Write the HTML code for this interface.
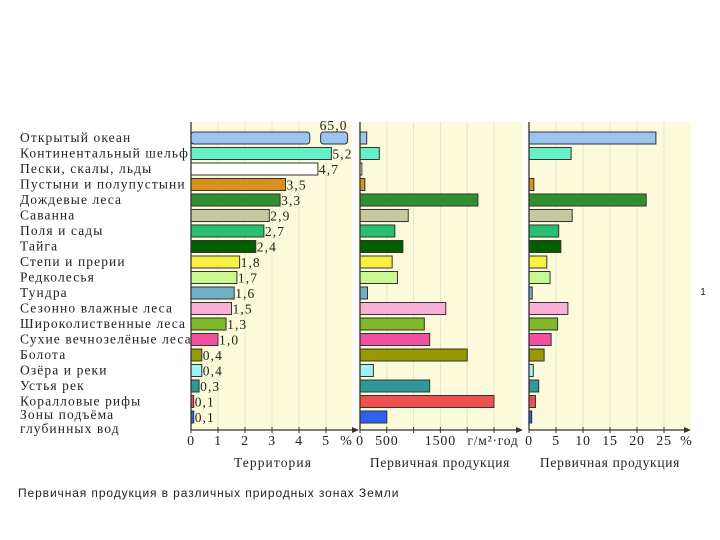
<!DOCTYPE html>
<html><head><meta charset="utf-8"><style>
body{margin:0;width:720px;height:540px;background:#fff;overflow:hidden}
svg{position:absolute;left:0;top:0}
text{font-family:"Liberation Serif","DejaVu Serif",serif;fill:#222}
</style></head><body>
<svg id="c" width="720" height="540"></svg>
<script>
const categories=["Открытый океан","Континентальный шельф","Пески, скалы, льды","Пустыни и полупустыни","Дождевые леса","Саванна","Поля и сады","Тайга","Степи и прерии","Редколесья","Тундра","Сезонно влажные леса","Широколиственные леса","Сухие вечнозелёные леса","Болота","Озёра и реки","Устья рек","Коралловые рифы","Зоны подъёма глубинных вод"];
const territory=[65.0,5.2,4.7,3.5,3.3,2.9,2.7,2.4,1.8,1.7,1.6,1.5,1.3,1.0,0.4,0.4,0.3,0.1,0.1];
const territoryLabels=["65,0","5,2","4,7","3,5","3,3","2,9","2,7","2,4","1,8","1,7","1,6","1,5","1,3","1,0","0,4","0,4","0,3","0,1","0,1"];
const productivity=[125,360,35,90,2200,900,650,800,600,700,140,1600,1200,1300,2000,250,1300,2500,500];
const productionShare=[23.5,7.8,0,0.9,21.7,8,5.5,5.9,3.3,3.9,0.6,7.2,5.3,4.1,2.8,0.8,1.8,1.2,0.5];
const colors=["#9cc4f0","#66f0c8","#ffffff","#d89020","#2e9030","#c8c8a0","#28c070","#006000","#f8f040","#c8f890","#70b0c8","#f8b0d8","#80b828","#f050a0","#989800","#a0f0f8","#309898","#f05050","#3060f0"];
const terrTicks=[0,1,2,3,4,5];
const prodTicks=[0,500,1000,1500,2000,2500];
const prodTickLabels=["0","500","","1500","",""];
const shareTicks=[0,5,10,15,20,25];

const NS="http://www.w3.org/2000/svg";
const svg=document.getElementById('c');
function el(t,a,p){const e=document.createElementNS(NS,t);for(const k in a)e.setAttribute(k,a[k]);(p||svg).appendChild(e);return e;}
const rowY=i=>138+i*15.5;
const BH=12, AXY=430, TOP=122;
const tx=v=>191+v*27;
const px=v=>360+v*0.0536;
const sx=v=>529+v*5.4;
const LS='1.1px';

[[191,352,"territory-panel"],[358,522,"productivity-panel"],[527,691,"share-panel"]].forEach(p=>{
 const r=el('rect',{x:p[0],y:TOP,width:p[1]-p[0],height:AXY-TOP,fill:'#fbfbdc'});
 
 
});
function grid(ticks,f,labels,name){
 ticks.forEach((t,i)=>{
  if(t>0){const g=el('line',{x1:f(t),x2:f(t),y1:TOP,y2:AXY,stroke:'#e4e4c8','stroke-width':1});
  }
  const tk=el('line',{x1:f(t),x2:f(t),y1:AXY-3,y2:AXY+3,stroke:'#333'});
  
  const lab=labels?labels[i]:String(t);
  if(lab){const tt=el('text',{x:f(t),y:445,'font-size':14,'text-anchor':'middle'});tt.textContent=lab;tt.style.letterSpacing='0.8px';
  }
 });
}
grid(terrTicks,tx,null,'territory');
grid(prodTicks,px,prodTickLabels,'productivity');
grid(shareTicks,sx,null,'share');

function lab(x,y,s,name,anchor){const t=el('text',{x:x,y:y,'font-size':13.5,'text-anchor':anchor||'start'});t.textContent=s;t.style.letterSpacing=LS;
 return t;}

categories.forEach((c,i)=>{
 const y=rowY(i);
 if(i<categories.length-1){
  lab(20,y+4,c,'category-label');
 }else{
  lab(20,y+2,"Зоны подъёма",'category-label');
  lab(20,y+16,"глубинных вод",'category-label');
 }
 let v=territory[i];
 if(v>5.5){
  const b1=el('rect',{x:tx(0),y:y-BH/2,width:tx(4.4)-tx(0),height:BH,fill:colors[i],stroke:'#333',rx:3});
  
  const b2=el('rect',{x:tx(4.8),y:y-BH/2,width:tx(5.8)-tx(4.8),height:BH,fill:colors[i],stroke:'#333',rx:3});
  
  lab(tx(5.8),y-8,territoryLabels[i],'territory-value','end');
 }else{
  const b=el('rect',{x:tx(0),y:y-BH/2,width:tx(v)-tx(0),height:BH,fill:colors[i],stroke:'#333'});
  
  lab(tx(v)+1,y+5,territoryLabels[i],'territory-value');
 }
 const pb=el('rect',{x:px(0),y:y-BH/2,width:px(productivity[i])-px(0),height:BH,fill:colors[i],stroke:'#333'});
 
 if(productionShare[i]>0){
  const sb=el('rect',{x:sx(0),y:y-BH/2,width:sx(productionShare[i])-sx(0),height:BH,fill:colors[i],stroke:'#333'});
  
 }
});

[[191,TOP,352],[360,TOP,516],[529,TOP,684]].forEach((a,k)=>{
 const v=el('line',{x1:a[0],x2:a[0],y1:a[1],y2:AXY,stroke:'#333','stroke-width':1.3});
 
 const h=el('line',{x1:a[0],x2:a[2],y1:AXY,y2:AXY,stroke:'#333','stroke-width':1.3});
 
 const ar=el('path',{d:`M${a[2]} ${AXY-3} L${a[2]+7} ${AXY} L${a[2]} ${AXY+3}Z`,fill:'#333'});
 
});
function txt(x,y,s,size,anchor,name,fam,ls){const t=el('text',{x:x,y:y,'font-size':size,'text-anchor':anchor});t.textContent=s;if(fam)t.style.fontFamily=fam;if(ls)t.style.letterSpacing=ls;
 return t;}
txt(346,445,"%",14,'middle','territory-unit');
txt(493,445,"г/м²·год",13.5,'middle','productivity-unit',null,'0.8px');
txt(686,445,"%",14,'middle','share-unit');
txt(273,467,"Территория",13.5,'middle','territory-axis-title',null,LS);
txt(440,467,"Первичная продукция",13.5,'middle','productivity-axis-title',null,'0.7px');
txt(610,467,"Первичная продукция",13.5,'middle','share-axis-title',null,'0.7px');
txt(18,497,"Первичная продукция в различных природных зонах Земли",12,'start','caption','"Liberation Sans",sans-serif','0.9px');
txt(703,295,"1",10,'middle','page-number','"Liberation Sans",sans-serif');
</script>
</body></html>
